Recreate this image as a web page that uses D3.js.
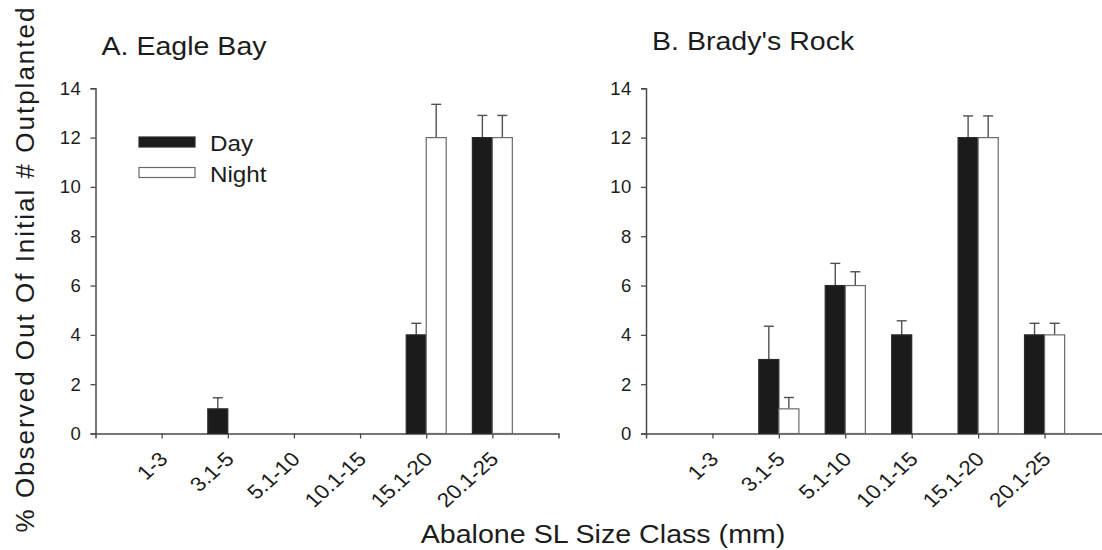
<!DOCTYPE html>
<html>
<head>
<meta charset="utf-8">
<script src="https://cdn.jsdelivr.net/npm/d3@7"></script>
<style>
  html, body { margin: 0; padding: 0; background: #fff; }
  svg { display: block; font-family: "Liberation Sans", Arial, Helvetica, sans-serif; }
  text { fill: #1c1c1c; }
</style>
</head>
<body>
<svg id="chart" width="1102" height="550"></svg>
<script>
// Size classes (mm shell length)
const categories = ["1-3", "3.1-5", "5.1-10", "10.1-15", "15.1-20", "20.1-25"];
const yTicks = [0, 2, 4, 6, 8, 10, 12, 14];

// A. Eagle Bay: % observed (mean) and upper error
const eagleDay = [0, 1, 0, 0, 4, 12];
const eagleDayErr = [0, 0.45, 0, 0, 0.47, 0.9];
const eagleNight = [0, 0, 0, 0, 12, 12];
const eagleNightErr = [0, 0, 0, 0, 1.35, 0.9];

// B. Brady's Rock
const bradyDay = [0, 3, 6, 4, 12, 4];
const bradyDayErr = [0, 1.35, 0.9, 0.57, 0.88, 0.47];
const bradyNight = [0, 1, 6, 0, 12, 4];
const bradyNightErr = [0, 0.46, 0.56, 0, 0.88, 0.47];

const svg = d3.select("#chart");

const AXIS_COLOR = "#4a4a4a";
const DAY_FILL = "#1b1b1b";
const NIGHT_STROKE = "#6a6a6a";
const WIDE = 1.12; // horizontal widening of the lettering

const y = d3.scaleLinear().domain([0, 14]).range([433.5, 88.3]);

const panels = [
  {
    title: "A. Eagle Bay", titleX: 101.5, titleY: 54.5,
    x0: 95.5, x1: 558.5,
    day: eagleDay, dayErr: eagleDayErr, night: eagleNight, nightErr: eagleNightErr,
    legend: true
  },
  {
    title: "B. Brady's Rock", titleX: 652, titleY: 49.5,
    x0: 646, x1: 1111,
    day: bradyDay, dayErr: bradyDayErr, night: bradyNight, nightErr: bradyNightErr,
    legend: false
  }
];

panels.forEach(p => {
  const g = svg.append("g");
  const x = d3.scaleLinear().domain([0, 7]).range([p.x0, p.x1]);
  const step = x(1) - x(0);
  const bw = step * 0.302;

  // y axis
  const yAxis = d3.axisLeft(y).tickValues(yTicks).tickSizeOuter(0).tickSize(5).tickPadding(9);
  const ya = g.append("g").attr("transform", `translate(${p.x0},0)`).call(yAxis);
  ya.selectAll("text").style("font-size", "18.5px").attr("fill", "#1c1c1c").attr("letter-spacing", "0.6");

  // x axis with slanted category labels
  const xAxis = d3.axisBottom(x).tickValues(d3.range(1, categories.length + 1))
    .tickFormat(i => categories[i - 1]).tickSizeOuter(0).tickSize(5);
  const xa = g.append("g").attr("transform", `translate(0,${y(0)})`).call(xAxis);
  xa.selectAll("text")
    .style("font-size", "20px")
    .attr("text-anchor", "end")
    .attr("dy", null).attr("y", null)
    .attr("transform", `translate(7,27) scale(${WIDE},1) rotate(-45)`);

  [ya, xa].forEach(a => {
    a.selectAll("path.domain").attr("stroke", AXIS_COLOR).attr("stroke-width", 1.5);
    a.selectAll(".tick line").attr("stroke", AXIS_COLOR).attr("stroke-width", 1.3);
  });

  // bars
  const rows = categories.map((c, i) => ({
    i, day: p.day[i], dayErr: p.dayErr[i], night: p.night[i], nightErr: p.nightErr[i]
  }));

  const series = [
    { key: "day", err: "dayErr", off: -bw, fill: DAY_FILL, stroke: "#2a2a2a" },
    { key: "night", err: "nightErr", off: 0, fill: "#ffffff", stroke: NIGHT_STROKE }
  ];

  series.forEach(s => {
    const data = rows.filter(r => r[s.key] > 0);
    // error bars (upper only)
    const eg = g.append("g").attr("stroke", "#505050").attr("stroke-width", 1.4);
    eg.selectAll("line.v").data(data).join("line")
      .attr("x1", d => x(d.i + 1) + s.off + bw / 2)
      .attr("x2", d => x(d.i + 1) + s.off + bw / 2)
      .attr("y1", d => y(d[s.key]))
      .attr("y2", d => y(d[s.key] + d[s.err]));
    eg.selectAll("line.c").data(data).join("line")
      .attr("x1", d => x(d.i + 1) + s.off + bw / 2 - 5)
      .attr("x2", d => x(d.i + 1) + s.off + bw / 2 + 5)
      .attr("y1", d => y(d[s.key] + d[s.err]))
      .attr("y2", d => y(d[s.key] + d[s.err]));

    g.append("g").selectAll("rect").data(data).join("rect")
      .attr("x", d => x(d.i + 1) + s.off)
      .attr("width", bw)
      .attr("y", d => y(d[s.key]))
      .attr("height", d => y(0) - y(d[s.key]))
      .attr("fill", s.fill)
      .attr("stroke", s.stroke)
      .attr("stroke-width", 1.2);
  });

  // panel title
  g.append("text")
    .attr("transform", `translate(${p.titleX},${p.titleY}) scale(${WIDE},1)`)
    .style("font-size", "25.5px")
    .text(p.title);

  if (p.legend) {
    const lg = g.append("g");
    const items = [
      { label: "Day", fill: DAY_FILL, stroke: "#2a2a2a", y: 137 },
      { label: "Night", fill: "#ffffff", stroke: NIGHT_STROKE, y: 167.5 }
    ];
    items.forEach(it => {
      lg.append("rect").attr("x", 139).attr("y", it.y).attr("width", 56).attr("height", 10)
        .attr("fill", it.fill).attr("stroke", it.stroke).attr("stroke-width", 1.2);
      lg.append("text").attr("transform", `translate(210,${it.y + 14}) scale(1.1,1)`)
        .style("font-size", "22px").text(it.label);
    });
  }
});

// shared axis titles
svg.append("text")
  .attr("transform", "translate(34,269) rotate(-90)")
  .attr("text-anchor", "middle")
  .style("font-size", "26px")
  .attr("letter-spacing", "2")
  .text("% Observed Out Of Initial # Outplanted");

svg.append("text")
  .attr("transform", "translate(603,543) scale(1.145,1)")
  .attr("text-anchor", "middle")
  .style("font-size", "25px")
  .text("Abalone SL Size Class (mm)");
</script>
</body>
</html>
